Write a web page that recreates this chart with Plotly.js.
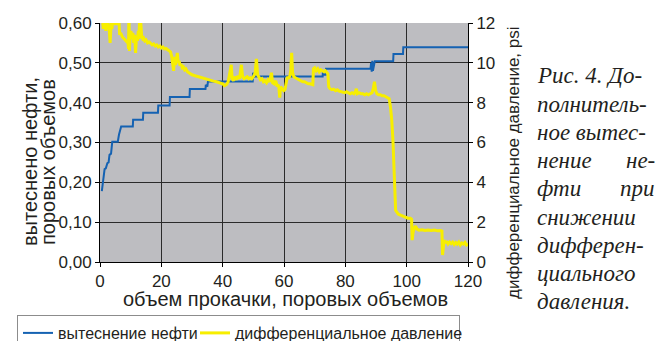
<!DOCTYPE html>
<html>
<head>
<meta charset="utf-8">
<script src="https://cdn.plot.ly/plotly-3.0.1.min.js"></script>
<style>html,body{margin:0;padding:0;background:#fff;}#chart{width:668px;height:341px;}</style>
</head>
<body>
<div id="chart"></div>
<script>
// ---- data ----
const seriesNames = ['вытеснение нефти', 'дифференциальное давление'];
const xTitle = 'объем прокачки, поровых объемов';
const yTitle1 = 'вытеснено нефти,';
const yTitle2 = 'поровых объемов';
const y2Title = 'дифференциальное давление, psi';
const captionLines = ['Рис. 4. До-', 'полнитель-', 'ное вытес-', ['нение', 'не-'], ['фти', 'при'], 'снижении', 'дифферен-', 'циального', 'давления.'];

const oilX = [0.6, 1.0, 1.5, 1.9, 2.4, 2.8, 3.1, 3.6, 4.0, 5.8, 6.2, 6.9, 10.7, 10.8, 14.0, 14.1, 18.9, 19.0, 22.7, 22.8, 29.2, 29.3, 34.4, 34.5, 35.0, 35.2, 49.8, 49.9, 50.2, 50.4, 72.6, 72.7, 72.9, 73.6, 73.7, 88.2, 88.4, 88.6, 88.8, 89.0, 89.6, 95.6, 95.7, 98.8, 98.9, 120];
const oilY = [0.178, 0.205, 0.233, 0.235, 0.248, 0.250, 0.269, 0.272, 0.302, 0.302, 0.320, 0.340, 0.340, 0.357, 0.357, 0.375, 0.375, 0.393, 0.393, 0.414, 0.414, 0.434, 0.434, 0.445, 0.440, 0.453, 0.453, 0.475, 0.463, 0.466, 0.466, 0.478, 0.470, 0.470, 0.485, 0.485, 0.500, 0.478, 0.505, 0.480, 0.504, 0.504, 0.522, 0.522, 0.539, 0.539];

const dpX = [0.9, 1.1, 1.3, 1.5, 1.7, 1.9, 2.1, 2.3, 2.5, 2.7, 2.9, 3.1, 3.3, 3.5, 3.7, 3.9, 4.1, 4.4, 4.7, 5.0, 5.3, 5.6, 5.9, 6.2, 6.4, 6.7, 7.0, 7.3, 7.6, 7.9, 8.2, 8.5, 8.8, 9.1, 9.3, 9.45, 9.6, 9.8, 10.1, 10.4, 10.7, 11.0, 11.3, 11.6, 11.9, 12.2, 12.5, 12.7, 12.9, 13.1, 13.3, 13.6, 13.9, 14.2, 14.6, 15.0, 15.5, 16.0, 16.5, 17.0, 17.5, 18.0, 18.5, 19.0, 19.5, 20.0, 20.5, 21.0, 21.5, 22.0, 22.5, 23.0, 23.4, 23.7, 24.0, 24.3, 24.6, 24.9, 25.2, 25.5, 25.8, 26.1, 26.4, 26.8, 27.2, 27.6, 28.0, 28.5, 29.0, 29.5, 30.0, 31.0, 32.0, 33.0, 34.0, 35.0, 36.0, 37.0, 38.0, 39.0, 40.0, 40.6, 41.2, 41.8, 42.3, 42.8, 43.1, 43.5, 44.0, 44.5, 45.0, 45.5, 46.1, 46.5, 47.0, 47.5, 48.0, 48.5, 49.0, 49.5, 50.0, 50.6, 51.0, 51.4, 51.8, 52.3, 52.8, 53.3, 53.8, 54.3, 54.8, 55.3, 55.9, 56.3, 56.8, 57.3, 57.8, 58.0, 58.3, 58.6, 58.9, 59.4, 59.9, 60.3, 60.7, 61.1, 61.5, 61.9, 62.2, 62.5, 62.8, 63.2, 63.7, 64.3, 64.9, 65.5, 66.1, 66.7, 67.3, 67.9, 68.5, 69.0, 69.4, 69.6, 70.0, 70.5, 71.0, 71.5, 72.0, 72.5, 73.0, 73.5, 74.0, 74.3, 74.6, 75.0, 75.6, 76.2, 76.8, 77.4, 78.0, 78.6, 79.2, 79.8, 80.4, 81.0, 81.6, 82.2, 82.8, 83.3, 83.6, 83.9, 84.5, 85.1, 85.7, 86.3, 86.9, 87.5, 88.1, 88.7, 89.1, 89.5, 89.9, 90.3, 90.8, 91.4, 92.0, 92.6, 93.2, 93.8, 94.3, 94.7, 95.1, 95.5, 95.8, 96.0, 96.1, 96.4, 96.8, 97.3, 98.0, 98.8, 99.6, 100.4, 101.2, 101.6, 101.8, 102.1, 102.5, 102.9, 103.4, 104.0, 105.0, 106.0, 107.0, 108.0, 109.0, 110.0, 111.0, 111.5, 111.7, 112.2, 112.6, 113.0, 113.5, 114.0, 114.5, 115.0, 115.5, 116.0, 116.5, 117.0, 117.5, 118.0, 118.5, 119.0, 119.5, 120.0];
const dpY = [12.0, 11.7, 12.2, 11.8, 12.1, 11.6, 12.0, 11.7, 12.1, 11.8, 11.9, 11.5, 11.0, 11.6, 12.0, 11.7, 12.1, 11.9, 12.1, 11.9, 12.1, 11.9, 12.2, 12.1, 11.4, 11.5, 11.35, 11.3, 11.25, 11.2, 11.15, 11.1, 11.05, 11.1, 10.7, 12.7, 10.6, 11.3, 11.6, 11.2, 11.5, 11.0, 11.4, 10.5, 11.3, 11.1, 11.6, 11.2, 12.2, 11.4, 12.0, 11.3, 11.2, 11.25, 11.1, 11.15, 11.0, 11.05, 10.95, 10.9, 10.95, 10.85, 10.9, 10.8, 10.85, 10.75, 10.8, 10.7, 10.72, 10.65, 10.6, 10.55, 10.3, 10.0, 9.6, 10.3, 9.9, 10.1, 10.5, 10.0, 10.1, 9.85, 9.95, 9.75, 9.8, 9.65, 9.7, 9.55, 9.5, 9.42, 9.4, 9.35, 9.3, 9.25, 9.2, 9.15, 9.12, 9.08, 9.05, 9.0, 8.95, 8.85, 8.9, 9.05, 9.4, 9.9, 9.2, 9.1, 9.3, 9.15, 9.35, 9.2, 9.9, 9.3, 9.2, 9.25, 9.3, 9.2, 9.25, 9.2, 9.3, 9.5, 10.2, 9.4, 9.3, 9.15, 9.2, 9.05, 9.1, 9.0, 9.15, 9.05, 9.5, 9.0, 8.95, 9.1, 8.8, 8.9, 8.8, 8.25, 8.8, 8.7, 8.6, 8.65, 9.0, 9.3, 9.2, 9.35, 9.6, 10.5, 9.5, 9.3, 9.25, 9.2, 9.15, 9.1, 9.05, 9.05, 9.0, 8.95, 8.95, 8.9, 8.9, 9.7, 9.75, 9.6, 9.7, 9.55, 9.65, 9.6, 9.55, 9.6, 9.5, 9.45, 8.8, 8.7, 8.65, 8.68, 8.6, 8.65, 8.58, 8.55, 8.55, 8.5, 8.55, 8.5, 8.45, 8.5, 8.45, 8.55, 8.7, 8.45, 8.5, 8.45, 8.45, 8.4, 8.45, 8.4, 8.45, 8.5, 8.7, 9.05, 8.6, 8.45, 8.4, 8.4, 8.35, 8.35, 8.3, 8.25, 8.2, 7.8, 7.2, 6.2, 5.0, 3.5, 2.95, 2.6, 2.5, 2.4, 2.35, 2.3, 2.25, 2.2, 2.2, 2.15, 1.1, 1.5, 1.7, 1.8, 1.65, 1.6, 1.62, 1.58, 1.6, 1.58, 1.6, 1.57, 1.58, 1.55, 0.35, 1.1, 0.95, 1.05, 0.9, 1.0, 0.92, 1.0, 0.88, 0.98, 0.9, 1.0, 0.85, 0.95, 0.9, 0.98, 0.85, 0.9];

const xTicks = [0, 20, 40, 60, 80, 100, 120];
const yTicks = [0, 0.1, 0.2, 0.3, 0.4, 0.5, 0.6];
const y2Ticks = [0, 2, 4, 6, 8, 10, 12];

// ---- layout helpers (pixel -> paper / container) ----
const W = 668, H = 341;
const PL = 100, PR = 468, PT = 23, PB = 262;
const px = v => (v - PL) / (PR - PL);
const py = v => (PB - v) / (PB - PT);

const sans = 'Liberation Sans, Arial, sans-serif';
const serif = 'Liberation Serif, Times New Roman, serif';
const textColor = '#231f20';

const traces = [
  {x: oilX, y: oilY, name: seriesNames[0], type: 'scatter', mode: 'lines', yaxis: 'y', legend: 'legend',
   line: {color: '#1562b2', width: 2}},
  {x: dpX, y: dpY, name: seriesNames[1], type: 'scatter', mode: 'lines', yaxis: 'y2', legend: 'legend2',
   line: {color: '#f7ee00', width: 3}}
];

const annotations = [
  {text: yTitle1, x: px(30), y: py(162), textangle: -90, font: {family: sans, size: 20, color: textColor}},
  {text: yTitle2, x: px(48), y: py(162), textangle: -90, font: {family: sans, size: 20, color: textColor}},
  {text: y2Title, x: px(513), y: py(163), textangle: -90, font: {family: sans, size: 17, color: textColor}},
  {text: xTitle, x: px(285), y: py(299), font: {family: sans, size: 20, color: textColor}}
];
const capY = [75, 104, 132, 160, 189, 217, 245, 273, 301];
captionLines.forEach((ln, i) => {
  const f = {family: serif, size: 23, color: textColor, style: 'italic'};
  if (Array.isArray(ln)) {
    annotations.push({text: ln[0], x: px(535), y: py(capY[i]), xanchor: 'left', font: f});
    annotations.push({text: ln[1], x: px(657), y: py(capY[i]), xanchor: 'right', font: f});
  } else {
    annotations.push({text: ln, x: px(535), y: py(capY[i]), xanchor: 'left', font: f});
  }
});
annotations.forEach(a => { a.xref = 'paper'; a.yref = 'paper'; a.showarrow = false; if (!a.xanchor) a.xanchor = 'center'; a.yanchor = 'middle'; });

const axCommon = {
  showline: true, linecolor: '#000', linewidth: 1, ticks: 'outside', ticklen: 4, tickcolor: '#000',
  tickfont: {family: sans, size: 17, color: textColor}, zeroline: false, fixedrange: true, automargin: false
};

const legendCommon = {orientation: 'h', xref: 'container', yref: 'container', xanchor: 'left', yanchor: 'top',
  bgcolor: 'rgba(0,0,0,0)', font: {family: sans, size: 16, color: textColor}, itemwidth: 30};

const layout = {
  width: W, height: H,
  margin: {l: PL, r: W - PR, t: PT, b: H - PB, pad: 0, autoexpand: false},
  paper_bgcolor: '#ffffff', plot_bgcolor: '#bdbdc1',
  separators: ', ',
  showlegend: true,
  // first legend carries the outer frame; its entry is widened so the frame spans both items
  legend: Object.assign({}, legendCommon, {x: 17 / W, y: 1 - 315 / H, borderwidth: 1, bordercolor: '#8c8c8c',
    entrywidth: 396, entrywidthmode: 'pixels'}),
  legend2: Object.assign({}, legendCommon, {x: 195 / W, y: 1 - 316 / H, borderwidth: 0}),
  xaxis: Object.assign({}, axCommon, {range: [0, 120], tickvals: xTicks, showgrid: true, gridcolor: '#2b2b2b', gridwidth: 1}),
  yaxis: Object.assign({}, axCommon, {range: [0, 0.6], tickvals: yTicks, tickformat: '.2f', showgrid: true, gridcolor: '#2b2b2b', gridwidth: 1}),
  yaxis2: Object.assign({}, axCommon, {range: [0, 12], tickvals: y2Ticks, overlaying: 'y', side: 'right', showgrid: false}),
  annotations: annotations
};

Plotly.newPlot('chart', traces, layout, {staticPlot: true, displayModeBar: false});
</script>
</body>
</html>
